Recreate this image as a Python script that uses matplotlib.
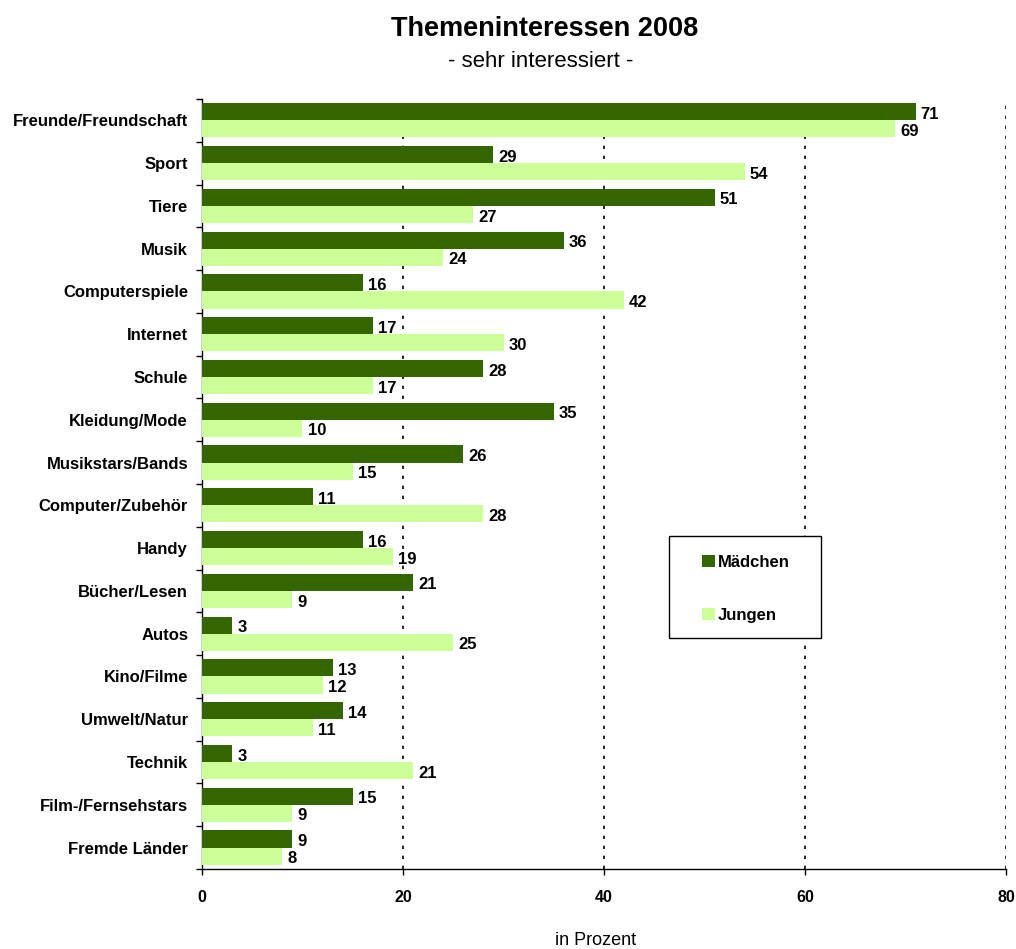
import matplotlib
matplotlib.use('Agg')
import matplotlib.pyplot as plt
import numpy as np
from matplotlib.patches import Patch, Rectangle

plt.rcParams['font.family'] = ['Liberation Sans', 'DejaVu Sans']

categories = ['Freunde/Freundschaft', 'Sport', 'Tiere', 'Musik', 'Computerspiele',
              'Internet', 'Schule', 'Kleidung/Mode', 'Musikstars/Bands',
              'Computer/Zubehör', 'Handy', 'Bücher/Lesen', 'Autos', 'Kino/Filme',
              'Umwelt/Natur', 'Technik', 'Film-/Fernsehstars', 'Fremde Länder']
maedchen = [71, 29, 51, 36, 16, 17, 28, 35, 26, 11, 16, 21, 3, 13, 14, 3, 15, 9]
jungen = [69, 54, 27, 24, 42, 30, 17, 10, 15, 28, 19, 9, 25, 12, 11, 21, 9, 8]
series_names = ['Mädchen', 'Jungen']
x_ticks = [0, 20, 40, 60, 80]

dark = '#336600'
light = '#CCFF99'

fig = plt.figure(figsize=(10.16, 9.49), dpi=100)
ax = fig.add_axes([0.1988, 0.0843, 0.7914, 0.8114])

y = np.arange(len(categories))
h = 0.4
ax.barh(y - h / 2, maedchen, height=h, color=dark, zorder=3)
ax.barh(y + h / 2, jungen, height=h, color=light, zorder=3)

# value labels, nudged a little below bar centre like the original
for i in range(len(categories)):
    ax.text(maedchen[i] + 0.5, y[i] - h / 2 + 0.06, str(maedchen[i]), va='center', ha='left',
            fontsize=12, fontweight='bold', zorder=4)
    ax.text(jungen[i] + 0.5, y[i] + h / 2 + 0.06, str(jungen[i]), va='center', ha='left',
            fontsize=12, fontweight='bold', zorder=4)

ax.set_xlim(0, 80)
ax.set_ylim(len(categories) - 0.5, -0.5)
ax.set_xticks(x_ticks)
ax.set_xticklabels([str(t) for t in x_ticks], fontsize=11.5, fontweight='bold')
ax.tick_params(axis='x', length=4, width=1, direction='out', pad=11)

ax.set_yticks(y)
ax.set_yticklabels(categories, fontsize=12, fontweight='bold')
for lab in ax.get_yticklabels():
    lab.set_verticalalignment('center_baseline')
ax.tick_params(axis='y', which='major', length=0, pad=10)
ax.set_yticks(np.arange(-0.5, len(categories)), minor=True)
ax.tick_params(axis='y', which='minor', length=4, width=1, direction='out')

for t in x_ticks[1:]:
    ax.axvline(t, color='black', linestyle=(0, (2, 4)), linewidth=1.2, zorder=1)

ax.spines['top'].set_visible(False)
ax.spines['right'].set_visible(False)
ax.spines['left'].set_linewidth(1)
ax.spines['bottom'].set_linewidth(1)

fig.text(0.536, 0.969, 'Themeninteressen 2008', ha='center', va='center',
         fontsize=19.5, fontweight='bold')
fig.text(0.532, 0.935, '- sehr interessiert -', ha='center', va='center', fontsize=16)
fig.text(0.586, 0.009, 'in Prozent', ha='center', va='center', fontsize=13)

# legend box
ax.add_patch(Rectangle((0.581, 0.30), 0.189, 0.132, transform=ax.transAxes,
                       facecolor='white', edgecolor='black', linewidth=1,
                       zorder=5, clip_on=False))
handles = [Patch(facecolor=dark, label=series_names[0]),
           Patch(facecolor=light, label=series_names[1])]
leg = ax.legend(handles=handles, loc='center left', bbox_to_anchor=(0.622, 0.364),
                frameon=False, prop={'weight': 'bold', 'size': 12},
                handlelength=0.75, handleheight=0.75, handletextpad=0.2,
                labelspacing=2.3, borderpad=0, borderaxespad=0)
leg.set_zorder(6)

fig.savefig('out.png', dpi=100)
